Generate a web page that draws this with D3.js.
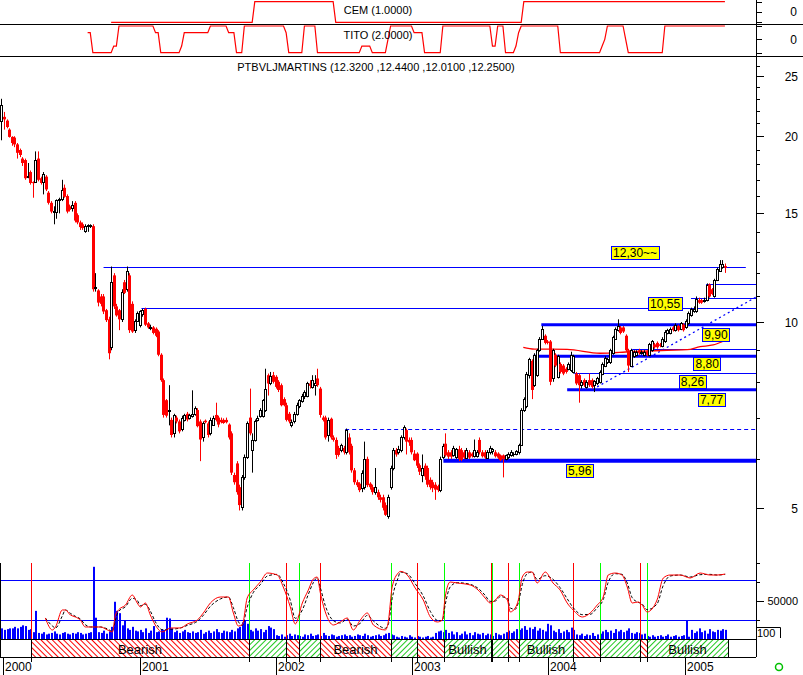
<!DOCTYPE html>
<html><head><meta charset="utf-8">
<script src="https://cdn.jsdelivr.net/npm/d3@7"></script>
<style>body{margin:0;background:#fff}svg{display:block}text{font-family:"Liberation Sans",Arial,sans-serif;fill:#000}</style>
</head><body><svg id="c" width="803" height="675"></svg>
<script>
// ---------------- DATA (weekly, first week = 27 Dec 1999) ----------------
const firstWeek = [1999, 11, 27];
const opens = [21.2,21.5,21.2,20.5,19.95,19.9,19.4,19.0,18.4,18.3,
17.2,17.5,16.85,16.85,18.4,17.1,16.85,17.2,16.2,15.6,
15.1,15.05,15.76,15.8,16.5,16.0,15.4,15.3,15.6,14.9,
14.5,14.4,14.05,14.3,14.3,14.3,11.35,11.25,11.0,11.0,
10.45,10.1,9.1,11.9,10.6,10.45,10.1,11.6,11.3,11.9,
10.7,9.7,10.05,9.9,10.3,10.5,9.95,9.78,9.8,9.75,
9.65,8.85,8.05,7.47,7.18,6.94,6.6,7.0,6.9,6.7,
6.95,7.1,7.0,7.05,7.1,7.2,6.9,6.5,6.92,6.85,
6.6,6.82,7.07,7.0,6.94,6.94,6.94,6.82,6.6,5.65,
5.9,5.4,5.02,5.6,6.05,7.0,6.2,6.45,6.95,7.05,
7.05,7.2,8.2,7.95,8.2,8.15,8.0,7.9,7.5,7.33,
7.1,6.8,6.9,7.1,7.3,7.45,7.58,7.6,7.95,7.85,
7.9,8.1,7.8,7.0,7.0,6.56,6.97,6.5,6.44,6.25,
6.2,6.25,6.15,6.5,6.3,5.75,5.5,5.47,5.38,5.4,
6.0,5.47,5.4,5.3,5.3,5.2,5.2,5.05,4.85,5.4,
5.8,6.2,6.15,6.2,6.5,6.68,6.44,6.44,6.12,6.12,
5.86,5.65,5.85,5.8,5.55,5.5,5.45,5.42,5.34,6.05,
6.35,6.15,6.15,6.08,6.05,6.22,6.2,6.15,6.03,6.15,
6.12,6.06,6.06,6.44,6.15,6.15,6.03,6.15,6.18,6.15,
6.12,6.08,6.08,6.0,6.05,6.09,6.1,6.12,6.15,6.32,
7.2,7.3,8.2,8.65,7.9,8.2,9.0,9.4,9.5,9.3,
9.3,8.1,8.85,8.15,8.55,8.5,8.4,8.4,8.35,8.3,
8.25,8.2,7.9,8.05,7.85,8.05,8.05,7.9,7.95,8.0,
8.25,8.5,8.6,8.6,8.9,9.4,9.7,9.8,9.8,9.5,
9.0,8.5,8.8,8.85,9.0,8.9,8.85,8.95,8.85,9.0,
9.2,9.25,9.2,9.15,9.3,9.6,9.6,9.8,9.7,9.85,
9.75,9.9,9.8,9.95,10.25,10.4,10.4,10.85,10.85,10.8,
10.85,11.5,11.3,11.0,11.7,12.1,12.3,12.32];
const highs = [23.0,21.9,21.3,20.6,20.0,20.0,19.5,19.1,18.5,18.4,
18.1,17.6,16.9,18.9,18.9,17.2,17.5,17.3,16.3,15.7,
15.4,15.8,15.9,17.0,16.7,16.1,15.5,15.7,15.7,15.0,
14.6,14.5,14.4,14.4,14.4,14.4,12.0,11.3,11.1,11.1,
10.5,10.2,12.3,12.0,10.7,10.5,11.3,11.7,12.3,12.0,
10.8,10.1,10.4,10.45,10.5,10.55,10.0,9.9,9.85,9.8,
9.7,8.9,8.1,7.5,7.9,7.0,7.1,7.05,6.95,7.05,
7.1,7.15,7.1,7.75,7.3,7.25,6.95,6.9,6.95,6.9,
7.0,7.05,7.4,7.05,7.0,6.98,7.0,6.85,6.65,5.7,
5.95,5.45,5.65,6.1,6.9,7.8,6.6,6.95,7.05,7.25,
7.5,8.4,8.25,8.3,8.3,8.2,8.05,7.95,7.55,7.4,
7.15,6.95,7.15,7.4,7.5,7.65,7.75,8.0,8.05,8.2,
8.2,8.4,7.85,7.05,7.05,7.0,7.0,6.55,6.5,6.3,
6.35,6.3,6.72,6.6,6.35,5.8,5.55,5.5,5.75,6.4,
6.05,5.5,5.45,5.8,5.35,5.25,5.25,5.1,5.25,5.85,
6.25,6.25,6.3,6.55,6.8,6.72,6.5,6.5,6.2,6.15,
5.9,6.1,5.9,5.85,5.6,5.55,5.5,5.45,6.05,6.35,
6.6,6.2,6.2,6.3,6.25,6.3,6.25,6.2,6.25,6.2,
6.15,6.45,6.2,6.5,6.2,6.2,6.2,6.3,6.25,6.2,
6.15,6.1,6.1,6.1,6.15,6.2,6.15,6.2,6.35,7.25,
7.55,8.3,8.75,8.7,8.9,9.05,9.45,9.85,9.55,9.35,
9.35,9.05,8.9,8.85,8.6,8.55,8.45,8.6,8.95,8.85,
8.3,8.25,8.05,8.1,8.05,8.25,8.1,8.05,8.15,8.35,
8.6,8.8,8.75,9.05,9.5,9.8,10.1,9.85,9.85,9.55,
9.05,9.05,9.0,9.0,9.05,9.0,9.0,9.0,9.25,9.35,
9.25,9.3,9.25,9.45,9.7,9.75,9.8,9.85,9.95,9.9,
10.0,9.95,10.1,10.4,10.55,10.6,11.0,10.95,10.9,10.95,
11.55,11.55,11.35,11.75,12.25,12.6,12.6,12.44];
const lows = [19.7,20.5,20.6,19.9,19.3,19.2,18.4,18.5,17.9,17.0,
17.1,16.7,15.9,16.8,16.9,16.7,16.1,16.3,15.5,15.0,
14.4,14.7,15.0,15.7,15.9,15.0,15.1,15.1,14.5,14.4,
14.1,14.1,13.95,14.0,14.2,11.2,11.2,10.6,10.6,10.3,
10.0,8.7,9.0,10.5,10.2,9.7,10.0,11.1,11.2,9.6,
9.6,9.6,10.0,9.8,10.2,9.85,9.75,9.7,9.55,9.45,
8.8,8.0,7.0,7.0,6.8,6.5,6.5,6.85,6.6,6.65,
6.9,6.9,6.95,7.0,7.05,6.75,5.95,6.4,6.85,6.5,
6.55,6.8,6.9,6.75,6.85,6.84,6.85,6.45,5.65,5.45,
5.25,4.95,4.95,5.55,6.0,6.55,5.7,6.4,6.9,7.0,
7.0,7.15,7.6,7.9,7.95,7.8,7.7,7.3,7.3,6.9,
6.85,6.75,6.85,7.05,7.25,7.4,7.5,7.55,7.8,7.8,
7.6,7.85,7.0,6.9,6.45,6.4,6.45,6.4,6.0,6.05,
6.15,6.1,6.1,6.1,5.7,5.45,5.4,5.3,5.3,5.35,
5.4,5.35,5.25,5.25,5.15,5.1,4.95,4.85,4.8,5.35,
5.75,6.05,6.1,6.15,6.45,6.1,6.3,6.1,5.95,5.8,
5.65,5.5,5.55,5.4,5.35,5.3,5.15,5.3,5.3,6.0,
6.05,6.0,6.0,6.05,6.0,5.95,5.95,6.0,6.0,6.0,
6.03,6.03,6.03,6.1,6.03,6.0,6.0,6.1,6.1,6.03,
6.0,5.95,5.6,5.97,6.0,6.05,6.05,6.08,6.1,6.3,
7.15,7.25,8.1,7.5,7.85,8.15,8.95,9.35,9.2,9.2,
7.9,8.0,8.45,8.1,8.25,8.2,8.25,8.35,8.3,8.25,
7.9,7.4,7.8,7.85,7.8,7.85,7.8,7.7,7.9,7.95,
8.2,8.45,8.55,8.55,8.85,9.35,9.65,9.55,9.6,8.95,
8.3,8.45,8.75,8.8,8.85,8.85,8.8,8.8,8.8,8.95,
9.05,9.05,9.1,9.1,9.25,9.55,9.55,9.65,9.65,9.65,
9.7,9.65,9.75,9.9,10.2,10.35,10.35,10.7,10.7,10.75,
10.8,10.95,11.05,10.95,11.65,12.05,12.2,12.01];
const closes = [22.5,21.3,20.7,19.95,19.5,19.4,18.8,18.65,18.1,17.1,
17.25,16.8,16.8,18.3,17.0,16.8,17.35,16.4,15.6,15.1,
15.15,15.76,15.8,16.36,15.96,15.1,15.2,15.45,14.6,14.5,
14.25,14.2,14.3,14.35,14.35,11.3,11.4,10.75,10.7,10.4,
10.07,8.9,11.6,10.6,10.25,10.1,11.2,11.15,12.1,9.7,
9.65,10.05,10.35,10.4,10.45,9.9,9.8,9.82,9.6,9.5,
8.85,8.05,7.07,7.05,7.2,6.56,7.07,6.9,6.65,7.0,
7.07,6.95,7.07,7.1,7.25,6.78,6.45,6.85,6.88,6.56,
6.94,7.0,6.94,6.82,6.88,6.86,6.88,6.5,5.7,5.5,
5.3,5.05,5.6,6.05,6.85,6.6,6.45,6.9,7.0,7.2,
7.47,7.8,7.95,8.18,8.0,7.85,7.76,7.33,7.33,6.94,
6.9,6.88,7.1,7.35,7.47,7.6,7.7,7.95,7.88,8.05,
7.95,7.9,7.07,6.94,6.5,6.94,6.5,6.44,6.09,6.09,
6.32,6.15,6.68,6.15,5.75,5.5,5.44,5.34,5.7,6.0,
5.44,5.4,5.3,5.4,5.2,5.15,5.0,4.87,5.2,5.8,
6.2,6.1,6.22,6.5,6.75,6.4,6.38,6.15,5.97,5.85,
5.72,5.8,5.62,5.45,5.4,5.38,5.35,5.34,6.0,6.3,
6.08,6.05,6.05,6.25,6.22,6.0,5.98,6.03,6.2,6.03,
6.06,6.2,6.15,6.15,6.06,6.03,6.15,6.25,6.22,6.06,
6.03,5.97,6.0,6.08,6.12,6.15,6.12,6.18,6.32,7.2,
7.5,8.25,8.7,7.76,8.85,9.0,9.4,9.75,9.25,9.25,
8.0,9.0,8.5,8.8,8.3,8.25,8.3,8.55,8.85,8.8,
7.95,7.9,8.0,7.9,8.0,7.9,7.85,8.02,8.1,8.3,
8.55,8.75,8.7,9.0,9.45,9.75,9.85,9.6,9.65,9.0,
8.5,9.0,8.95,8.95,8.9,8.95,8.95,8.85,9.2,9.3,
9.1,9.1,9.15,9.4,9.65,9.7,9.75,9.7,9.9,9.7,
9.95,9.7,10.05,10.35,10.5,10.5,10.9,10.75,10.75,10.85,
11.5,11.0,11.1,11.7,12.2,12.4,12.4,12.25];
// weekly volume, thousands
const volumeK = [14,12,13,14,14,16,14,16,18,17,12,13,
9,37,
8,7,9,6,7,8,10,7,6,8,9,7,6,8,7,9,8,6,7,8,9,
95,28,
9,8,11,7,10,
16,49,37,34,
18,24,14,12,16,11,
10,12,9,14,8,11,17,9,10,13,12,
28,27,14,
9,11,8,10,12,9,8,
10,8,9,12,7,9,11,8,10,13,9,8,11,10,9,12,10,14,
16,22,24,20,
12,10,14,11,13,9,12,
17,15,13,
5,4,6,3,5,7,4,6,5,4,3,6,5,7,4,5,6,4,8,5,4,6,5,3,4,5,6,4,5,3,4,6,5,4,7,5,3,4,5,6,4,5,7,8,6,5,
3,2,4,3,2,5,3,2,4,3,2,3,4,2,3,
8,10,11,9,12,8,10,
6,9,5,7,10,6,8,5,9,7,6,8,
5,7,6,4,8,6,5,7,
9,11,8,10,13,12,
14,17,12,15,13,16,11,14,12,10,
20,18,
11,9,13,8,10,12,9,
15,12,
6,5,7,4,6,5,8,4,6,7,
10,12,9,11,8,13,10,12,9,11,14,
8,7,9,8,6,7,
4,3,5,3,4,5,3,4,6,3,4,5,3,4,5,25,3,
12,8,10,14,9,11,7,13,10,9,12,11,13,12];

// indicator panels: [firstWeek, value] runs
const cemRuns = [[42,-1],[97,1],[128,-1],[200,1]];
const titoRuns = [[33,1],[35,-2],[43,-1],[45,2],[59,1],[61,-2],[69,-1],[70,1],[80,2],[87,1],[90,-2],[93,2],[109,1],[110,-2],[116,2],[121,-2],[138,-1],[142,-2],[148,0],[149,2],[158,1],[162,-2],[169,2],[188,-1],[190,2],[193,-2],[197,-1],[198,1],[199,2],[214,-2],[230,-1],[231,0],[232,2],[239,0],[240,-2],[254,2]];
const lastWeek = 277;

// oscillator (0-100)
const oscWeek = [16.8,19.5,20.7,23.3,24.5,26.4,28.3,30.2,32.1,34.1,37.9,40.6,42.5,43.6,44.8,47.5,50.1,52,53.2,55.1,57,58.9,61.6,64.7,68.5,71.2,75,77.3,80,83.8,86.9,88.8,90.7,92.2,94.1,96.4,99.1,101.8,105.6,107.9,110.6,112.5,115.2,117.5,119.4,120.9,122.1,124,127.1,129.7,132.4,134.7,137.4,140.1,142.4,147,148.1,149.6,151.9,152.7,155.4,158.4,161.5,164.2,166.9,168.8,169.9,171.8,174.5,179.5,182.5,185.2,187.1,189.1,191,193.7,194.8,196.7,197.9,199.4,201.3,203.2,205.1,208.2,211.2,213.9,216.6,218.9,222.4,225.4,228.1,230.4,232.3,235,237.6,239.6,241.5,243.8,245.3,247.2,251,253.4,256,259.9,263.7,267.5,271.3,274,277.1];
const oscK = [23,5,9.5,35,35,27.5,24.5,20,9.5,9.5,
9.5,5,2,27.5,35,42.5,57.5,45.5,39.5,45.5,
27.5,12.5,2,8,8,14,20,30.5,45.5,54.5,
54.5,30.5,11,12.5,53,65,77,90.5,87.5,69.5,
39.5,14,45.5,65,81.5,84.5,60.5,32,12.5,17,
23,5,20,30.5,12.5,5,17,69.5,90.5,93,
87.5,68,50,24.5,17,20,54.5,77,75.5,72.5,
65,53,45.5,50,57.5,50,32,38,50,84.5,
92,92,75.5,92,75.5,65,45.5,35,24.5,30.5,
42.5,54.5,87.5,90.5,87.5,69.5,45.5,47,42.5,32,
50,83,87.5,87.5,83,90.5,87.5,87.5,89];
const oscD = [23,11,8,26,35,30,25.5,21.5,13,9.5,
9.5,6.5,3,19,32.5,40,52.5,49.5,41.5,43.5,
33.5,17.5,5.5,6,8,12,18,27,40.5,51.5,
54.5,38.5,17.5,12,39.5,61,73,86,88.5,75.5,
49.5,22.5,35,58.5,76,83.5,68.5,41.5,19,15.5,
21,11,15,27,18.5,7.5,13,52,83.5,92,
89.5,74.5,56,33,19.5,19,43,69.5,76,73.5,
67.5,57,48,48.5,55,52.5,38,36,46,73,
89.5,92,81,86.5,81,68.5,52,38.5,28,28.5,
38.5,50.5,76.5,89.5,88.5,75.5,53.5,46.5,44,35.5,
44,72,86,87.5,84.5,88,88.5,87.5,88.5];
const oscBands = [20, 80];

// signals (week position) and band
const signalWeek = [11.4,94.6,109,113.8,122.1,149.1,159.1,169.3,187.4,188,194.1,198,219,229.2,244.3,247.3];
const signalType = ['sell','buy','sell','buy','sell','buy','sell','buy','sell','buy','sell','buy','sell','buy','sell','buy'];
const bandEndWeek = 278.3;

// support / resistance levels
const levelValue = [12.30,10.55,11.52,10.93,9.90,9.03,8.80,8.26,7.77,6.70,5.96];
const levelFrom  = [39.1,53.6,269.8,264,206.7,241.5,203.6,219.3,216.6,131.6,169.2];
const levelTo    = [285,290,290,290,290,290,290,290,290,290,290];
const levelKind  = ['thin','thin','thin','thin','thick','thin','thick','thin','thick','dash','heavy'];
const trendWeek = [228.1, 289];
const trendValue = [7.85, 10.98];
const maWeek = [199.8,204,216.6,229.2,240.7,254.9,262.5,267.5,272.5,276];
const maValue = [9.1,9.04,9.03,8.9,8.95,9.0,9.02,9.12,9.18,9.29];
const noteText = ['12,30~~','10,55','9,90','8,80','8,26','7,77','5,96'];
const noteWeek = [242.6,254.1,273.6,270.2,264.6,271.9,221.4];
const noteValue = [12.94,10.73,9.53,8.57,8.01,7.49,5.74];

const priceTicks = d3.range(5, 27);
const priceLabels = [5,10,15,20,25];
const years = [2000,2001,2002,2003,2004,2005];
const title = 'PTBVLJMARTINS (12.3200 ,12.4400 ,12.0100 ,12.2500)';

// ---------------- DRAWING ----------------
const svg = d3.select('#c');
const AX = 756;
const RED = '#ff0000', BLUE = '#0000ff', GREEN = '#00ff00';
const dateOf = i => { const d = new Date(firstWeek[0], firstWeek[1], firstWeek[2]); return new Date(d.getTime() + i * 7 * 864e5); };
const x = d3.scaleTime().domain([new Date(2000,0,1), new Date(2005,0,1)]).range([3.3, 685]);
const xi = i => x(dateOf(i));
const y = d3.scaleLog().domain([5,25]).range([507.77, 76.44]);
const cemY = d3.scaleLinear().domain([-1,1]).range([22.3,1.7]);
const titoY = d3.scaleLinear().domain([-2,2]).range([52.7,26]);
const volY = d3.scaleLinear().domain([0,50]).range([639,601]);
const oscY = d3.scaleLinear().domain([0,100]).range([633.3,566.7]);

const defs = svg.append('defs');
defs.append('clipPath').attr('id','clipP').append('rect').attr('x',0).attr('y',57).attr('width',AX).attr('height',503);
defs.append('clipPath').attr('id','clipB').append('rect').attr('x',0).attr('y',560).attr('width',AX).attr('height',80);
const pr = defs.append('pattern').attr('id','hatchR').attr('patternUnits','userSpaceOnUse').attr('width',4).attr('height',4).attr('patternTransform','rotate(-45)');
pr.append('line').attr('x1',0.5).attr('x2',0.5).attr('y1',-1).attr('y2',5).attr('stroke',RED).attr('stroke-width',1);
const pg = defs.append('pattern').attr('id','hatchG').attr('patternUnits','userSpaceOnUse').attr('width',4).attr('height',4).attr('patternTransform','rotate(45)');
pg.append('line').attr('x1',0.5).attr('x2',0.5).attr('y1',-1).attr('y2',5).attr('stroke','#20c820').attr('stroke-width',1);

// separators & axis
svg.append('line').attr('x1',0).attr('x2',803).attr('y1',24.5).attr('y2',24.5).attr('stroke','#000');
svg.append('line').attr('x1',0).attr('x2',803).attr('y1',56.5).attr('y2',56.5).attr('stroke','#000');
svg.append('line').attr('x1',AX+0.5).attr('x2',AX+0.5).attr('y1',0).attr('y2',657).attr('stroke','#000');

// ---- top panels
function expandRuns(runs){ const out=[]; runs.forEach((r,k)=>{ const nx = k<runs.length-1 ? runs[k+1][0] : lastWeek+1; for(let i=r[0];i<nx;i++) out.push({i, v:r[1]}); }); return out; }
svg.append('path').datum(expandRuns(cemRuns)).attr('fill','none').attr('stroke',RED).attr('stroke-width',1.2)
  .attr('d', d3.line().x(d=>xi(d.i)).y(d=>cemY(d.v)));
svg.append('path').datum(expandRuns(titoRuns)).attr('fill','none').attr('stroke',RED).attr('stroke-width',1.2)
  .attr('d', d3.line().x(d=>xi(d.i)).y(d=>titoY(d.v)));
svg.append('text').attr('x',378).attr('y',14).attr('text-anchor','middle').style('font-size','11px').text('CEM (1.0000)');
svg.append('text').attr('x',378).attr('y',39).attr('text-anchor','middle').style('font-size','11px').text('TITO (2.0000)');
[-1,0,1].forEach(v=>svg.append('line').attr('x1',AX).attr('x2',AX+6).attr('y1',Math.round(cemY(v))+0.5).attr('y2',Math.round(cemY(v))+0.5).attr('stroke','#000'));
[-2,0,2].forEach(v=>svg.append('line').attr('x1',AX).attr('x2',AX+6).attr('y1',Math.round(titoY(v))+0.5).attr('y2',Math.round(titoY(v))+0.5).attr('stroke','#000'));
svg.append('text').attr('x',797).attr('y',cemY(0)+4).attr('text-anchor','end').style('font-size','12px').text('0');
svg.append('text').attr('x',797).attr('y',titoY(0)+5).attr('text-anchor','end').style('font-size','12px').text('0');

// ---- price panel
svg.append('text').attr('x',376).attr('y',71).attr('text-anchor','middle').style('font-size','11px').text(title);
priceTicks.forEach(v=>{
  const yy = Math.round(y(v))+0.5, major = priceLabels.includes(v);
  svg.append('line').attr('x1',AX).attr('x2',AX+(major?8:4)).attr('y1',yy).attr('y2',yy).attr('stroke','#000');
  if (major) svg.append('text').attr('x',798).attr('y',yy+4).attr('text-anchor','end').style('font-size','12px').text(v);
});
const gp = svg.append('g').attr('clip-path','url(#clipP)');
levelValue.forEach((v,k)=>{
  const kind = levelKind[k];
  const w = kind==='heavy'?4:kind==='thick'?3:1;
  const yy = kind==='heavy'||kind==='thick' ? y(v) : Math.round(y(v))+0.5;
  const ln = gp.append('line').attr('x1',xi(levelFrom[k])).attr('x2',Math.min(AX,xi(levelTo[k]))).attr('y1',yy).attr('y2',yy).attr('stroke',BLUE).attr('stroke-width',w);
  if (kind==='dash') ln.attr('stroke-dasharray','4,3');
});
gp.append('line').attr('x1',xi(trendWeek[0])).attr('x2',xi(trendWeek[1])).attr('y1',y(trendValue[0])).attr('y2',y(trendValue[1]))
  .attr('stroke',BLUE).attr('stroke-width',1.3).attr('stroke-dasharray','2,3');
gp.append('path').datum(maWeek.map((w,k)=>({w,v:maValue[k]}))).attr('fill','none').attr('stroke',RED).attr('stroke-width',1.3)
  .attr('d', d3.line().x(d=>xi(d.w)).y(d=>y(d.v)).curve(d3.curveMonotoneX));
const nC = Math.min(opens.length, highs.length, lows.length, closes.length);
for (let i=0;i<nC;i++){
  const o=opens[i], h=highs[i], l=lows[i], c=closes[i];
  const cx = Math.round(xi(i));
  const up = c >= o;
  const col = up ? '#000' : RED;
  gp.append('line').attr('x1',cx+0.5).attr('x2',cx+0.5).attr('y1',y(Math.max(h,o,c))).attr('y2',y(Math.min(l,o,c))).attr('stroke',col);
  const yt = y(Math.max(o,c)), yb = y(Math.min(o,c));
  if (up) {
    const t = Math.round(yt)+0.5, b = Math.round(yb)+0.5;
    gp.append('rect').attr('x',cx-0.5).attr('y',t).attr('width',2).attr('height',Math.max(0.01,b-t)).attr('fill','#fff').attr('stroke','#000');
  } else {
    gp.append('rect').attr('x',cx-1).attr('y',yt).attr('width',3).attr('height',Math.max(1,yb-yt)).attr('fill',RED);
  }
}
noteText.forEach((t,k)=>{
  const cx = xi(noteWeek[k]), cy = y(noteValue[k]);
  const g = svg.append('g');
  const r = g.append('rect').attr('fill','#ffff00').attr('stroke',BLUE).attr('stroke-width',1);
  const tx = g.append('text').attr('x',cx).attr('y',cy+4.5).attr('text-anchor','middle').style('font-size','12px').text(t);
  const tw = tx.node().getComputedTextLength();
  r.attr('x',Math.round(cx-tw/2-2)+0.5).attr('y',Math.round(cy-6.5)+0.5).attr('width',Math.round(tw+4)).attr('height',13);
});

// ---- bottom panel
const gb = svg.append('g').attr('clip-path','url(#clipB)');
oscBands.forEach(v=>gb.append('line').attr('x1',0).attr('x2',AX).attr('y1',Math.round(oscY(v))+0.5).attr('y2',Math.round(oscY(v))+0.5).attr('stroke',BLUE));
const nV = Math.min(volumeK.length, nC);
for (let i=0;i<nV;i++){
  const cx = Math.round(xi(i));
  gb.append('rect').attr('x',cx).attr('y',volY(volumeK[i])).attr('width',2).attr('height',639-volY(volumeK[i])).attr('fill',BLUE);
}
signalWeek.forEach((w,k)=>{
  const xx = Math.round(xi(w))+0.5;
  gb.append('line').attr('x1',xx).attr('x2',xx).attr('y1',563).attr('y2',639).attr('stroke',signalType[k]==='sell'?RED:GREEN);
});
const oscPts = oscWeek.map((w,k)=>({w,k:oscK[k],d:oscD[k]}));
gb.append('path').datum(oscPts).attr('fill','none').attr('stroke','#000').attr('stroke-dasharray','3,2')
  .attr('d', d3.line().x(p=>xi(p.w)).y(p=>oscY(p.d)).curve(d3.curveMonotoneX));
gb.append('path').datum(oscPts).attr('fill','none').attr('stroke',RED)
  .attr('d', d3.line().x(p=>xi(p.w)).y(p=>oscY(p.k)).curve(d3.curveMonotoneX));

signalWeek.forEach((w,k)=>{
  const x0 = Math.round(xi(w)), x1 = Math.round(xi(k<signalWeek.length-1?signalWeek[k+1]:bandEndWeek));
  const bear = signalType[k]==='sell';
  svg.append('rect').attr('x',x0).attr('y',640).attr('width',x1-x0).attr('height',17).attr('fill',bear?'url(#hatchR)':'url(#hatchG)');
  svg.append('line').attr('x1',x0+0.5).attr('x2',x0+0.5).attr('y1',639).attr('y2',662).attr('stroke','#000');
  if (x1-x0 > 42) svg.append('text').attr('x',(x0+x1)/2).attr('y',654).attr('text-anchor','middle').style('font-size','13px').text(bear?'Bearish':'Bullish');
});
const xe = Math.round(xi(bandEndWeek))+0.5;
svg.append('line').attr('x1',xe).attr('x2',xe).attr('y1',639).attr('y2',657).attr('stroke','#000');
svg.append('line').attr('x1',0).attr('x2',AX).attr('y1',639.5).attr('y2',639.5).attr('stroke','#000');
svg.append('line').attr('x1',0).attr('x2',AX).attr('y1',657.5).attr('y2',657.5).attr('stroke','#000');
svg.append('line').attr('x1',0.5).attr('x2',0.5).attr('y1',563).attr('y2',657).attr('stroke','#000');

[25,50,75,100].forEach(v=>{
  const yy = Math.round(volY(v))+0.5;
  svg.append('line').attr('x1',AX).attr('x2',AX+(v===50?8:4)).attr('y1',yy).attr('y2',yy).attr('stroke','#000');
});
svg.append('text').attr('x',798).attr('y',volY(50)+4).attr('text-anchor','end').style('font-size','11px').text(d3.format('d')(50*1000));
svg.append('path').attr('d','M757,627.5H780.5V638').attr('fill','none').attr('stroke','#000');
svg.append('text').attr('x',757).attr('y',637).style('font-size','11px').text('100');

years.forEach(yr=>{
  const xx = Math.round(x(new Date(yr,0,1)))+0.5;
  svg.append('line').attr('x1',xx).attr('x2',xx).attr('y1',657).attr('y2',675).attr('stroke','#000');
  svg.append('text').attr('x',xx+1.5).attr('y',671).style('font-size','12px').text(yr);
});
svg.append('circle').attr('cx',779).attr('cy',667).attr('r',3.5).attr('fill','none').attr('stroke','#00c000').attr('stroke-width',1.5);
</script></body></html>
